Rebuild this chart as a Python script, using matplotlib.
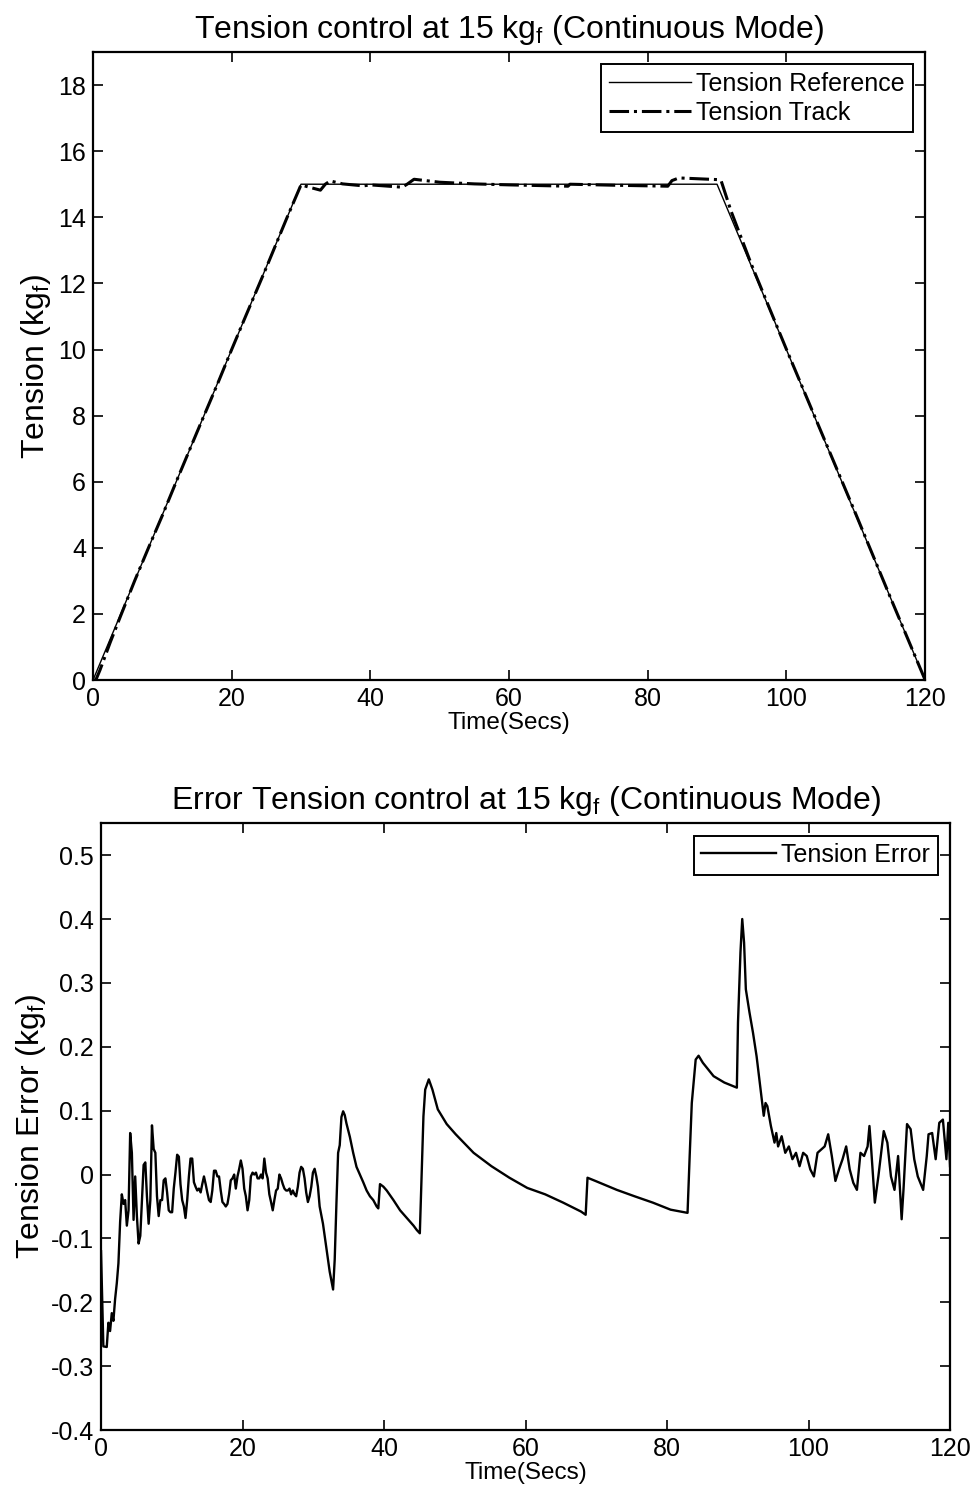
import numpy as np
import matplotlib.pyplot as plt

plt.rcParams['font.family'] = ['Liberation Sans', 'DejaVu Sans']
plt.rcParams['mathtext.fontset'] = 'custom'
plt.rcParams['mathtext.rm'] = 'Liberation Sans'
plt.rcParams['mathtext.it'] = 'Liberation Sans'

# tension reference (trapezoid)
ref_t = [0, 30, 90, 120]
ref_v = [0, 15, 15, 0]

# tension track
track_t = [0, 0.4, 1, 2.5, 4, 6, 8, 10, 12, 15, 18, 20, 22, 25, 28, 30, 31, 32.8, 33.5, 34.2,
           36, 39, 40, 44.6, 45.3, 46.3, 50, 55, 60, 68.5, 68.8, 75, 82.9, 83.5, 84.5, 90,
           90.6, 92, 95, 100, 105, 110, 115, 120]
track_v = [0, 0.0, 0.3, 1.15, 1.95, 3.0, 4.0, 4.98, 6.0, 7.5, 8.98, 10.0, 11.0, 12.48, 14.0, 14.98,
           14.92, 14.82, 15.0, 15.1, 15.01, 14.95, 14.98, 14.91, 15.0, 15.15, 15.06, 15.01, 14.98,
           14.94, 15.0, 14.97, 14.94, 15.11, 15.19, 15.14, 15.1, 14.2, 12.55, 10.01, 7.52, 5.03,
           2.5, 0.01]

# tension error
err_t = [0.00, 0.33, 0.81, 1.04, 1.28, 1.52, 1.75, 1.99, 2.23, 2.46, 2.70, 2.94, 3.18, 3.41, 3.65,
         3.89, 4.12, 4.36, 4.60, 4.83, 5.07, 5.31, 5.55, 5.78, 6.02, 6.26, 6.49, 6.73, 6.97, 7.20,
         7.44, 7.68, 7.91, 8.15, 8.39, 8.63, 8.86, 9.10, 9.34, 9.57, 9.81, 10.05, 10.28, 10.52,
         10.76, 11.00, 11.23, 11.47, 11.71, 11.94, 12.18, 12.42, 12.65, 12.89, 13.13, 13.36, 13.60,
         13.84, 14.08, 14.31, 14.55, 14.79, 15.02, 15.26, 15.50, 15.73, 15.97, 16.21, 16.45, 16.68,
         16.92, 17.16, 17.39, 17.63, 17.87, 18.10, 18.34, 18.58, 18.82, 19.05, 19.29, 19.53, 19.76,
         20.00, 20.24, 20.47, 20.71, 20.95, 21.18, 21.42, 21.66, 21.90, 22.13, 22.37, 22.61, 22.84,
         23.08, 23.32, 23.55, 23.79, 24.03, 24.27, 24.50, 24.74, 24.98, 25.21, 25.45, 25.69, 25.92,
         26.16, 26.40, 26.64, 26.87, 27.11, 27.35, 27.58, 27.82, 28.06, 28.29, 28.53, 28.77, 29.00,
         29.24, 29.48, 29.72, 29.95, 30.19, 30.43, 30.66, 30.90, 31.37, 31.85, 32.32, 32.80, 33.03,
         33.27, 33.51, 33.74, 33.98, 34.22, 34.45, 34.69, 35.17, 35.64, 36.11, 36.59, 37.06, 37.54,
         38.01, 38.48, 38.96, 39.19, 39.43, 39.91, 40.38, 41.33, 42.27, 43.22, 44.17, 44.64, 45.06,
         45.32, 45.57, 45.82, 46.33, 46.84, 47.60, 48.86, 50.13, 52.66, 55.19, 57.72, 60.25, 62.78,
         65.32, 67.85, 68.50, 68.76, 69.87, 72.90, 75.40, 78.00, 80.50, 82.90, 83.20, 83.50, 84.05,
         84.46, 85.06, 86.58, 88.10, 89.87, 90.03, 90.38, 90.63, 90.89, 91.14, 91.65, 92.15, 92.66,
         93.16, 93.67, 93.92, 94.18, 94.68, 95.19, 95.44, 95.70, 96.20, 96.71, 97.22, 97.72, 98.23,
         98.73, 99.24, 99.75, 100.25, 100.76, 101.27, 101.77, 102.28, 102.78, 103.29, 103.80,
         104.30, 104.81, 105.32, 105.82, 106.33, 106.84, 107.34, 107.85, 108.35, 108.61, 108.86,
         109.37, 109.87, 110.63, 111.14, 111.65, 112.15, 112.66, 113.16, 113.42, 113.92, 114.43,
         114.94, 115.44, 116.20, 116.71, 116.96, 117.47, 117.97, 118.48, 118.99, 119.49, 119.75,
         120.00]
err_v = [-0.120, -0.269, -0.270, -0.232, -0.245, -0.217, -0.229, -0.195, -0.170, -0.139, -0.074,
         -0.031, -0.046, -0.040, -0.080, -0.056, 0.065, 0.034, -0.071, -0.003, -0.065, -0.108,
         -0.096, -0.040, 0.015, 0.019, -0.034, -0.077, -0.040, 0.077, 0.040, 0.034, -0.034, -0.065,
         -0.040, -0.040, -0.009, -0.006, -0.028, -0.056, -0.059, -0.059, -0.022, 0.003, 0.031,
         0.028, -0.015, -0.040, -0.050, -0.068, -0.040, -0.003, 0.025, 0.025, -0.012, -0.019,
         -0.025, -0.022, -0.028, -0.015, -0.003, -0.015, -0.028, -0.040, -0.043, -0.025, 0.006,
         0.006, -0.003, -0.003, -0.025, -0.043, -0.046, -0.050, -0.046, -0.031, -0.009, -0.006,
         0.000, -0.022, -0.003, 0.009, 0.022, 0.009, -0.022, -0.034, -0.056, -0.040, -0.003, 0.003,
         0.000, 0.003, -0.006, -0.006, 0.000, -0.006, 0.025, 0.003, -0.006, -0.031, -0.043, -0.056,
         -0.040, -0.025, -0.022, 0.000, -0.006, -0.015, -0.022, -0.025, -0.025, -0.022, -0.031,
         -0.025, -0.031, -0.034, -0.019, 0.003, 0.012, 0.009, -0.006, -0.028, -0.043, -0.034,
         -0.019, 0.003, 0.009, -0.003, -0.019, -0.050, -0.077, -0.115, -0.152, -0.180, -0.133,
         -0.046, 0.034, 0.046, 0.090, 0.099, 0.093, 0.080, 0.059, 0.034, 0.012, 0.000, -0.012,
         -0.025, -0.034, -0.040, -0.050, -0.053, -0.015, -0.019, -0.025, -0.040, -0.056, -0.068,
         -0.080, -0.087, -0.092, 0.000, 0.091, 0.133, 0.149, 0.133, 0.102, 0.079, 0.063, 0.034,
         0.013, -0.005, -0.021, -0.031, -0.044, -0.058, -0.063, -0.005, -0.010, -0.024, -0.034,
         -0.044, -0.055, -0.060, 0.029, 0.112, 0.180, 0.186, 0.175, 0.154, 0.144, 0.136, 0.238,
         0.348, 0.400, 0.363, 0.290, 0.254, 0.222, 0.185, 0.139, 0.092, 0.112, 0.107, 0.076, 0.050,
         0.065, 0.044, 0.060, 0.034, 0.044, 0.024, 0.034, 0.013, 0.034, 0.029, 0.008, -0.003, 0.034,
         0.039, 0.044, 0.063, 0.029, -0.010, 0.008, 0.024, 0.044, 0.008, -0.013, -0.024, 0.034,
         0.029, 0.044, 0.076, 0.039, -0.044, -0.003, 0.068, 0.050, -0.003, -0.024, 0.029, -0.070,
         -0.024, 0.079, 0.071, 0.024, -0.003, -0.024, 0.029, 0.063, 0.065, 0.024, 0.081, 0.086,
         0.024, 0.081, 0.013]

x_ticks = [0, 20, 40, 60, 80, 100, 120]
top_yticks = [0, 2, 4, 6, 8, 10, 12, 14, 16, 18]
err_yticks = [-0.4, -0.3, -0.2, -0.1, 0, 0.1, 0.2, 0.3, 0.4, 0.5]
err_ylabels = ['-0.4', '-0.3', '-0.2', '-0.1', '0', '0.1', '0.2', '0.3', '0.4', '0.5']

fig = plt.figure(figsize=(9.77, 14.94), dpi=100)
ax1 = fig.add_axes([0.0952, 0.5448, 0.8516, 0.4204])
ax2 = fig.add_axes([0.1034, 0.0428, 0.869, 0.4062])

def style(ax):
    ax.tick_params(direction='in', length=7, width=1.2, top=True, right=True,
                   labelsize=18, pad=5)
    for s in ax.spines.values():
        s.set_linewidth(1.6)

# top chart
ax1.plot(ref_t, ref_v, '-', color='k', lw=1.0, label='Tension Reference')
ax1.plot(track_t, track_v, '-.', color='k', lw=2.2, label='Tension Track')
ax1.set_xlim(0, 120)
ax1.set_ylim(0, 19)
ax1.set_xticks(x_ticks)
ax1.set_yticks(top_yticks)
style(ax1)
ax1.set_title('Tension control at 15 kg$_\\mathrm{f}$ (Continuous Mode)', fontsize=23, pad=10)
ax1.set_ylabel('Tension (kg$_\\mathrm{f}$)', fontsize=23, labelpad=4)
ax1.set_xlabel('Time(Secs)', fontsize=17.5, labelpad=1)
leg = ax1.legend(loc='upper right', fontsize=18, fancybox=False, edgecolor='k',
                 handlelength=3.3, handletextpad=0.2, borderaxespad=0.5, labelspacing=0.2,
                 borderpad=0.3, framealpha=1)
leg.get_frame().set_linewidth(1.4)

# bottom chart
ax2.plot(err_t, err_v, '-', color='k', lw=1.7, label='Tension Error')
ax2.set_xlim(0, 120)
ax2.set_ylim(-0.4, 0.55)
ax2.set_xticks(x_ticks)
ax2.set_yticks(err_yticks)
ax2.set_yticklabels(err_ylabels)
style(ax2)
ax2.set_title('Error Tension control at 15 kg$_\\mathrm{f}$ (Continuous Mode)', fontsize=23, pad=10)
ax2.set_ylabel('Tension Error (kg$_\\mathrm{f}$)', fontsize=23, labelpad=2)
ax2.set_xlabel('Time(Secs)', fontsize=17.5, labelpad=1)
leg2 = ax2.legend(loc='upper right', fontsize=18, fancybox=False, edgecolor='k',
                  handlelength=3.0, handletextpad=0.2, borderaxespad=0.5, borderpad=0.3,
                  framealpha=1)
leg2.get_frame().set_linewidth(1.4)

fig.savefig('out.png', dpi=100)
